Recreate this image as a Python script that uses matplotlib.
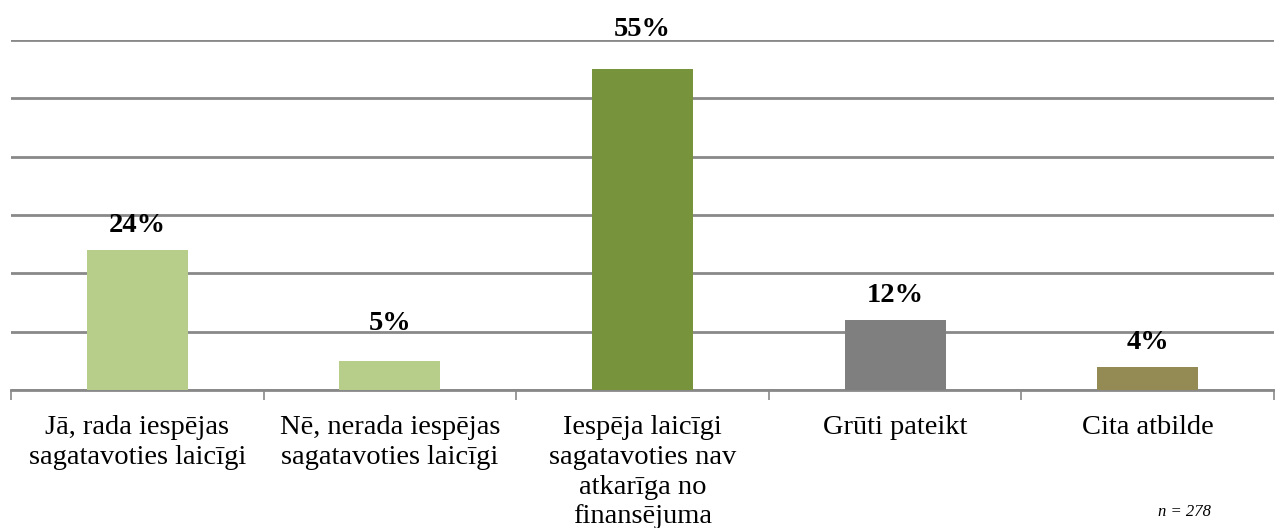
import numpy as np
import matplotlib.pyplot as plt

categories = ["Jā, rada iespējas\nsagatavoties laicīgi",
              "Nē, nerada iespējas\nsagatavoties laicīgi",
              "Iespēja laicīgi\nsagatavoties nav\natkarīga no\nfinansējuma",
              "Grūti pateikt",
              "Cita atbilde"]
values = [24, 5, 55, 12, 4]
colors = ["#B6CE89", "#B6CE89", "#77933C", "#7F7F7F", "#948A54"]
# gap (points) between bar top and its label, as placed in the original
label_gap = [13, 22, 24, 13, 13]

plt.rcParams['font.family'] = ['Liberation Serif', 'DejaVu Serif']

fig = plt.figure(figsize=(12.75, 5.28), dpi=100)
ax = fig.add_axes([11/1275, 1-390/528, 1263/1275, 350/528])

x = np.arange(len(values))
ax.bar(x, values, width=0.4, color=colors, zorder=3)
for xi, v, g in zip(x, values, label_gap):
    ax.annotate(f"{v}%", (xi, v), xytext=(0, g), textcoords="offset points",
                ha="center", va="baseline", fontsize=20.5, fontweight="bold", zorder=4)

ax.set_xlim(-0.5, len(values) - 0.5)
ax.set_ylim(0, 60)
ax.set_yticks(np.arange(0, 61, 10))
ax.yaxis.grid(True, color="#898989", linewidth=2)
ax.tick_params(axis="y", left=False, labelleft=False)
for s in ["left", "right", "top"]:
    ax.spines[s].set_visible(False)
ax.spines["bottom"].set_color("#898989")
ax.spines["bottom"].set_linewidth(2)
ax.spines["bottom"].set_zorder(2)

ax.set_xticks(x)
ax.set_xticklabels(categories, fontsize=20.5, linespacing=1.25, va="top")
ax.tick_params(axis="x", which="major", length=0, pad=18)
ax.set_xticks(np.arange(-0.5, len(values), 1), minor=True)
ax.tick_params(axis="x", which="minor", length=7, width=1.2, color="#898989")

fig.text(1184/1275, 1-512/528, "n = 278", ha="center", va="center",
         fontsize=12, style="italic")

fig.savefig("out.png")
